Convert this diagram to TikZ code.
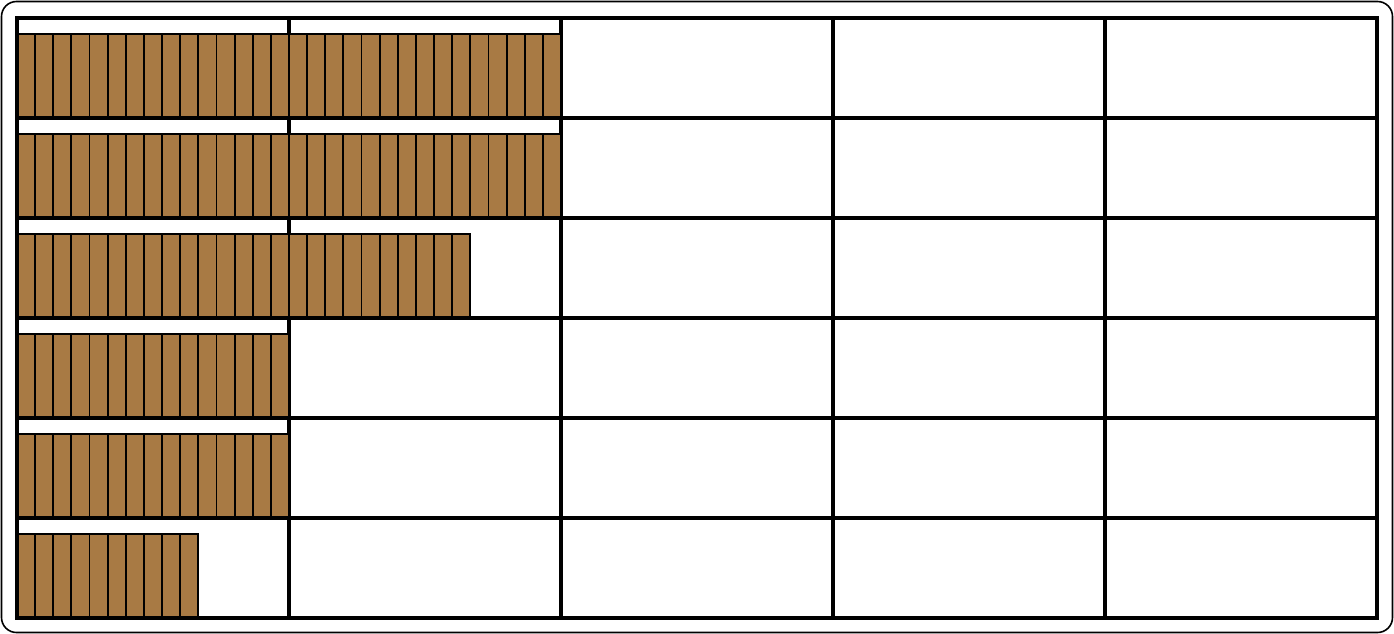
\documentclass[tikz,border=0pt]{standalone}
\usetikzlibrary{positioning}
\definecolor{stickbrown}{RGB}{168,122,68}
\tikzset{
  stick/.style={draw=black,line width=1.9pt,fill=stickbrown},
  gridline/.style={line width=3.4pt,line cap=rect},
}
\begin{document}
\begin{tikzpicture}[x=1pt,y=-1pt]
  \useasboundingbox (0,0) rectangle (1394,634);
  \draw[line width=1.6pt,rounded corners=15pt] (1.5,1.5) rectangle (1392.5,632.5);
  % columns of the table
  \foreach \c in {0,...,5}
    \draw[gridline] ({17+272*\c},18) -- ({17+272*\c},618);
  % sticks, 15 to a full cell
  \foreach \r/\n in {0/30,1/30,2/25,3/15,4/15,5/10}
    \foreach \i in {1,...,\n}
      \draw[stick] ({17+272/15*(\i-1)},{34+100*\r}) rectangle ++({272/15},84);
  % rows and frame on top
  \foreach \r in {0,...,6}
    \draw[gridline] (17,{18+100*\r}) -- (1377,{18+100*\r});
  \draw[gridline] (17,18) -- (17,618);
  \draw[gridline] (1377,18) -- (1377,618);
\end{tikzpicture}
\end{document}
